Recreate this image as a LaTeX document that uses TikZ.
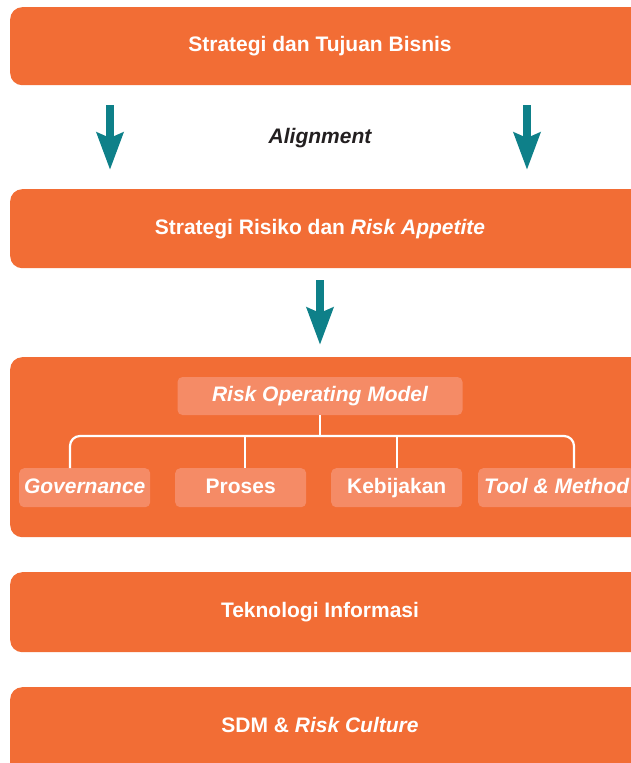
\documentclass[tikz,border=0pt]{standalone}
\usepackage{fontspec}
\setmainfont{Liberation Sans}
\usetikzlibrary{arrows.meta,positioning,calc}
\definecolor{ob}{HTML}{F26D35}
\definecolor{os}{HTML}{F58B66}
\definecolor{ta}{HTML}{0E8089}
\definecolor{tx}{HTML}{231F20}

\begin{document}
\begin{tikzpicture}[x=1pt,y=-1pt,font=\fontsize{21}{24}\selectfont\bfseries,
  band/.style={fill=ob,rounded corners=12pt,minimum width=660pt,inner sep=0pt,anchor=north west},
  lbl/.style={text=white,text height=15pt,text depth=4pt},
  sub/.style={fill=os,rounded corners=5pt,text=white,minimum width=131pt,minimum height=39pt,text height=15pt,text depth=4pt,inner xsep=4pt,inner ysep=0pt,anchor=north west},
  ar/.style={ta,line width=8pt,-{Stealth[length=37pt,width=26pt,inset=5pt]}},
  tr/.style={white,line width=2.2pt}]
\clip (0,0) rectangle (631,763);
\node[band,minimum height=78pt] (b1) at (10,7) {};
\node[lbl] (t1) at (320,46) {Strategi dan Tujuan Bisnis};
\node[lbl,text=tx] (al) at (320,138) {\itshape Alignment};
\node[band,minimum height=79pt] (b2) at (10,189) {};
\node[lbl] (t2) at (320,229) {Strategi Risiko dan \textit{Risk Appetite}};
\node[band,minimum height=180pt] (b3) at (10,357) {};
\node[band,minimum height=80pt] (b4) at (10,572) {};
\node[lbl] (t4) at (320,612) {Teknologi Informasi};
\node[band,minimum height=100pt] (b5) at (10,687) {};
\node[lbl] (t5) at (320,727) {SDM \& \textit{Risk Culture}};
\coordinate (l1) at (110,105); \coordinate (l2) at (110,170);
\coordinate (r1) at (527,105); \coordinate (r2) at (527,170);
\coordinate (m1) at (320,280); \coordinate (m2) at (320,345);
\draw[ar] (l1) -- (l2);
\draw[ar] (r1) -- (r2);
\draw[ar] (m1) -- (m2);
\node[sub,anchor=center,minimum width=285pt,minimum height=38pt] (rom) at (320,396) {\itshape Risk Operating Model};
\node[sub] (gov) at (19,468) {\itshape Governance};
\node[sub] (pro) at (175,468) {Proses};
\node[sub] (keb) at (331,468) {Kebijakan};
\node[sub,inner xsep=6pt] (tm) at (478,468) {\itshape Tool \& Method};
\coordinate (j0) at (320,436);
\coordinate (k1) at (70,436); \coordinate (k2) at (245,436);
\coordinate (k3) at (397,436); \coordinate (k4) at (574,436);
\draw[tr] (rom) -- (j0);
\draw[tr,rounded corners=10pt] (gov.north -| k1) |- (k4) -- (tm.north -| k4);
\draw[tr] (k2) -- (pro.north -| k2);
\draw[tr] (k3) -- (keb.north -| k3);
\end{tikzpicture}
\end{document}
